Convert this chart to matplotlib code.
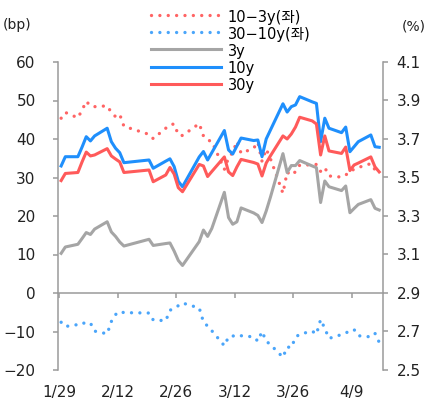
import matplotlib
matplotlib.use("Agg")
import matplotlib.pyplot as plt
import matplotlib.dates as mdates
import pandas as pd

plt.rcParams["font.family"] = ["DejaVu Sans", "Noto Sans CJK KR"]

# business days (Korean calendar)
dates = pd.to_datetime([
    "2026-01-29", "2026-01-30", "2026-02-02", "2026-02-03", "2026-02-04", "2026-02-05",
    "2026-02-06", "2026-02-09", "2026-02-10", "2026-02-11", "2026-02-12", "2026-02-13",
    "2026-02-19", "2026-02-20", "2026-02-23", "2026-02-24", "2026-02-25", "2026-02-26",
    "2026-02-27", "2026-03-03", "2026-03-04", "2026-03-05", "2026-03-06", "2026-03-09",
    "2026-03-10", "2026-03-11", "2026-03-12", "2026-03-13", "2026-03-16", "2026-03-17",
    "2026-03-18", "2026-03-19", "2026-03-20", "2026-03-23", "2026-03-24", "2026-03-25",
    "2026-03-26", "2026-03-27", "2026-03-30", "2026-03-31", "2026-04-01", "2026-04-02",
    "2026-04-03", "2026-04-06", "2026-04-07", "2026-04-08", "2026-04-09", "2026-04-10",
    "2026-04-13", "2026-04-14", "2026-04-15",
])

# yields, % (right axis)
yield_3y = [3.106, 3.139, 3.153, 3.183, 3.214, 3.204, 3.232, 3.270, 3.217, 3.194, 3.165, 3.144,
            3.179, 3.147, 3.157, 3.160, 3.118, 3.069, 3.043, 3.167, 3.227, 3.194, 3.235, 3.423,
            3.292, 3.257, 3.270, 3.342, 3.316, 3.303, 3.266, 3.326, 3.397, 3.624, 3.526, 3.562,
            3.562, 3.588, 3.560, 3.551, 3.370, 3.482, 3.452, 3.432, 3.456, 3.317, 3.339, 3.360,
            3.385, 3.340, 3.331]
yield_10y = [3.560, 3.608, 3.608, 3.658, 3.712, 3.690, 3.716, 3.756, 3.686, 3.652, 3.629, 3.577,
             3.591, 3.548, 3.585, 3.597, 3.557, 3.480, 3.452, 3.607, 3.635, 3.591, 3.629, 3.744,
             3.643, 3.622, 3.664, 3.705, 3.692, 3.695, 3.608, 3.700, 3.746, 3.883, 3.840, 3.868,
             3.877, 3.920, 3.893, 3.885, 3.686, 3.808, 3.756, 3.733, 3.762, 3.634, 3.660, 3.686,
             3.721, 3.660, 3.657]
yield_30y = [3.484, 3.521, 3.526, 3.581, 3.632, 3.612, 3.617, 3.650, 3.612, 3.596, 3.581, 3.526,
             3.539, 3.478, 3.513, 3.552, 3.518, 3.447, 3.426, 3.568, 3.560, 3.505, 3.531, 3.607,
             3.529, 3.510, 3.555, 3.594, 3.578, 3.570, 3.508, 3.575, 3.612, 3.716, 3.700, 3.726,
             3.762, 3.813, 3.794, 3.778, 3.617, 3.716, 3.638, 3.625, 3.658, 3.536, 3.565, 3.575,
             3.607, 3.555, 3.529]

# spreads, bp (left axis)
spread_10_3 = [45.4, 46.9, 45.5, 47.5, 49.8, 48.6, 48.4, 48.6, 46.9, 45.8, 46.4, 43.3,
               41.2, 40.1, 42.8, 43.7, 43.9, 41.1, 40.9, 44.0, 40.8, 39.7, 39.4, 32.1,
               35.1, 36.5, 39.4, 36.3, 37.6, 39.2, 34.2, 37.4, 34.9, 25.9, 31.4, 30.6,
               31.5, 33.2, 33.3, 33.4, 31.6, 32.6, 30.4, 30.1, 30.6, 31.7, 32.1, 32.6,
               33.6, 32.0, 32.6]
spread_30_10 = [-7.6, -8.7, -8.2, -7.7, -8.0, -7.8, -9.9, -10.6, -7.4, -5.6, -4.8, -5.1,
                -5.2, -7.0, -7.2, -4.5, -3.9, -3.3, -2.6, -3.9, -7.5, -8.6, -9.8, -13.7,
                -11.4, -11.2, -10.9, -11.1, -11.4, -12.5, -10.0, -12.5, -13.4, -16.7, -14.0, -14.2,
                -11.5, -10.7, -9.9, -10.7, -6.9, -9.2, -11.8, -10.8, -10.4, -9.8, -9.5, -11.1,
                -11.4, -10.5, -12.8]

tick_dates = pd.to_datetime(["2026-01-29", "2026-02-12", "2026-02-26",
                             "2026-03-12", "2026-03-26", "2026-04-09"])
tick_labels = ["1/29", "2/12", "2/26", "3/12", "3/26", "4/9"]

left_ticks = [-20, -10, 0, 10, 20, 30, 40, 50, 60]
right_ticks = [2.5, 2.7, 2.9, 3.1, 3.3, 3.5, 3.7, 3.9, 4.1]

AXIS_GRAY = "#9a9a9a"
TEXT = "#222222"

x = mdates.date2num(dates) + 0.5
xt = mdates.date2num(tick_dates)

fig = plt.figure(figsize=(4.26, 4.0), dpi=100)
ax = fig.add_axes([58 / 426, 30 / 400, 325.3 / 426, 308 / 400])

dot = (0, (0.01, 2.5))
l1, = ax.plot(x, spread_10_3, color="#ff6464", lw=2.4, linestyle=dot,
              dash_capstyle="round", label="10\u22123y(좌)")
l2, = ax.plot(x, spread_30_10, color="#4aa5fa", lw=2.4, linestyle=dot,
              dash_capstyle="round", label="30\u221210y(좌)")
ax.set_ylim(-20, 60)
ax.set_yticks(left_ticks)
ax.set_yticklabels([f"{v}".replace("-", "\u2212") for v in left_ticks])
ax.set_xlim(xt[0] - 0.25, xt[0] + 77.48)

ax2 = ax.twinx()
l3, = ax2.plot(x, yield_3y, color="#a5a5a5", lw=2.2, label="3y")
l4, = ax2.plot(x, yield_10y, color="#1f8ffc", lw=2.2, label="10y")
l5, = ax2.plot(x, yield_30y, color="#ff5a5a", lw=2.2, label="30y")
ax2.set_ylim(2.5, 4.1)
ax2.set_yticks(right_ticks)
ax2.set_yticklabels([f"{v:.1f}" for v in right_ticks])

for s in ["top", "right"]:
    ax.spines[s].set_visible(False)
for s in ["top", "left", "bottom"]:
    ax2.spines[s].set_visible(False)
ax.spines["left"].set_color(AXIS_GRAY)
ax2.spines["right"].set_color(AXIS_GRAY)
ax.spines["bottom"].set_position(("data", 0))
ax.spines["bottom"].set_color(AXIS_GRAY)
for s in [ax.spines["left"], ax2.spines["right"], ax.spines["bottom"]]:
    s.set_linewidth(1.1)

ax.set_xticks(xt)
ax.tick_params(axis="x", direction="out", length=3.6, width=1.1, color=AXIS_GRAY,
               labelbottom=False)
ax.tick_params(axis="y", direction="out", length=3.6, width=1.1, color=AXIS_GRAY,
               pad=12.5, labelsize=11, labelcolor=TEXT)
ax2.tick_params(axis="y", direction="out", length=3.6, width=1.1, color=AXIS_GRAY,
                pad=6, labelsize=11, labelcolor=TEXT)

sec = ax.secondary_xaxis("bottom")
sec.set_xticks(xt)
sec.set_xticklabels(tick_labels)
sec.tick_params(length=0, pad=10.5, labelsize=11, labelcolor=TEXT)
sec.spines["bottom"].set_visible(False)

fig.legend([l1, l2, l3, l4, l5], [h.get_label() for h in [l1, l2, l3, l4, l5]],
           loc="upper left", bbox_to_anchor=(151 / 426, 1 - 8.5 / 400), frameon=False,
           fontsize=10.5, handlelength=4.8, handletextpad=0.45, labelspacing=0.0,
           handleheight=1.43, borderpad=0, borderaxespad=0)

fig.text(17 / 426, 1 - 25 / 400, "(bp)", ha="center", va="center", fontsize=10, color=TEXT)
fig.text(414 / 426, 1 - 26 / 400, "(%)", ha="center", va="center", fontsize=10, color=TEXT)

fig.savefig("out.png", dpi=100)
